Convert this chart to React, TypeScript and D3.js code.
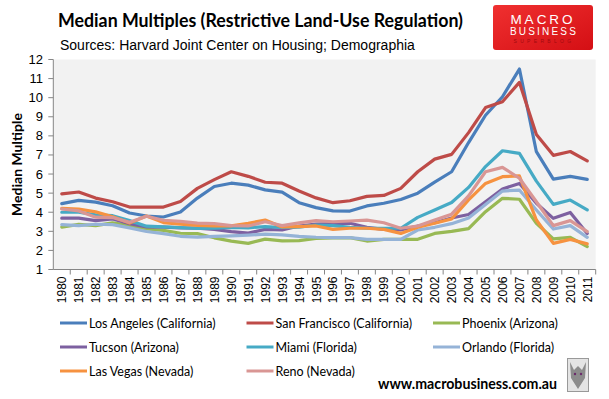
import React from 'react';
import * as d3 from 'd3';

const years = d3.range(1980, 2012).map(String);

const losAngeles = [4.45, 4.62, 4.53, 4.34, 3.96, 3.8, 3.75, 4.01, 4.74, 5.35, 5.52, 5.42, 5.17, 5.05, 4.5, 4.24, 4.07, 4.06, 4.33, 4.47, 4.67, 5.0, 5.58, 6.12, 7.65, 9.08, 10.05, 11.5, 7.17, 5.73, 5.88, 5.72];
const sanFrancisco = [4.96, 5.06, 4.74, 4.55, 4.27, 4.27, 4.27, 4.56, 5.25, 5.71, 6.12, 5.88, 5.57, 5.52, 5.11, 4.75, 4.5, 4.6, 4.83, 4.88, 5.25, 6.12, 6.78, 7.03, 8.17, 9.48, 9.79, 10.8, 8.07, 6.98, 7.18, 6.69];
const phoenix = [3.22, 3.36, 3.3, 3.44, 3.3, 3.12, 3.05, 2.9, 2.88, 2.66, 2.49, 2.37, 2.59, 2.5, 2.51, 2.63, 2.65, 2.67, 2.49, 2.58, 2.58, 2.58, 2.89, 3.0, 3.14, 4.03, 4.73, 4.68, 3.42, 2.6, 2.68, 2.2];
const tucson = [3.69, 3.69, 3.56, 3.65, 3.4, 3.23, 3.22, 3.18, 3.16, 3.1, 2.98, 2.91, 3.1, 3.07, 3.28, 3.38, 3.4, 3.42, 3.21, 3.1, 3.07, 3.28, 3.45, 3.7, 3.88, 4.55, 5.22, 5.51, 4.47, 3.68, 3.99, 2.89];
const miami = [4.0, 4.0, 3.86, 3.82, 3.56, 3.27, 3.23, 3.19, 3.15, 3.16, 3.2, 3.18, 3.25, 3.2, 3.22, 3.33, 3.3, 3.21, 3.16, 3.16, 3.16, 3.73, 4.12, 4.51, 5.3, 6.39, 7.22, 7.08, 5.63, 4.41, 4.64, 4.12];
const orlando = [3.35, 3.3, 3.37, 3.35, 3.18, 2.99, 2.88, 2.74, 2.7, 2.73, 2.76, 2.8, 2.85, 2.81, 2.74, 2.69, 2.67, 2.67, 2.58, 2.58, 2.58, 3.07, 3.21, 3.4, 3.7, 4.41, 5.11, 5.16, 4.12, 3.12, 3.3, 2.68];
const lasVegas = [4.2, 4.17, 4.02, 3.76, 3.43, 3.8, 3.46, 3.38, 3.31, 3.28, 3.29, 3.42, 3.59, 3.23, 3.25, 3.28, 3.1, 3.16, 3.16, 3.1, 2.89, 3.21, 3.42, 3.65, 4.65, 5.51, 5.86, 5.9, 3.59, 2.37, 2.58, 2.34];
const reno = [4.17, 4.07, 3.74, 3.72, 3.47, 3.79, 3.58, 3.52, 3.43, 3.4, 3.3, 3.28, 3.5, 3.3, 3.44, 3.56, 3.5, 3.54, 3.59, 3.45, 3.16, 3.28, 3.59, 3.9, 4.86, 6.12, 6.35, 5.78, 4.55, 3.3, 3.56, 2.98];

const seriesNames = [
  'Los Angeles (California)', 'San Francisco (California)', 'Phoenix (Arizona)',
  'Tucson (Arizona)', 'Miami (Florida)', 'Orlando (Florida)',
  'Las Vegas (Nevada)', 'Reno (Nevada)',
];
const seriesValues = [losAngeles, sanFrancisco, phoenix, tucson, miami, orlando, lasVegas, reno];
const seriesColors = ['#4A7EBB', '#BE4B48', '#98B954', '#7D60A0', '#46AAC5', '#95B3D7', '#F69240', '#D99694'];
const yTicks = d3.range(1, 13);

const W = 609, H = 399;
const plot = { left: 53.3, right: 595.7, top: 59.5, bottom: 269.5 };

const App = () => {
  const x = d3.scaleBand().domain(years).range([plot.left, plot.right]);
  const y = d3.scaleLinear().domain([1, 12]).range([plot.bottom, plot.top]);
  const cx = (yr: string) => (x(yr) as number) + x.bandwidth() / 2;

  const line = d3.line<number>()
    .x((d, i) => cx(years[i]))
    .y(d => y(d));

  const calibri = 'Lato, "Open Sans", sans-serif';
  const arial = '"Liberation Sans", Arial, sans-serif';

  return (
    <svg width={W} height={H} style={{ position: 'absolute', left: 0, top: 0, background: '#fff' }}>
      <defs>
        <linearGradient id="logoGrad" x1="0" y1="0" x2="1" y2="1">
          <stop offset="0" stopColor="#F03030" />
          <stop offset="1" stopColor="#D40F14" />
        </linearGradient>
      </defs>

      {/* title */}
      <text x={58} y={27} fontFamily={calibri} fontWeight="bold" fontSize={18} fill="#000"
        textLength={405} lengthAdjust="spacingAndGlyphs">
        Median Multiples (Restrictive Land-Use Regulation)
      </text>
      <text x={60} y={50} fontFamily={arial} fontSize={14} fill="#000">
        Sources: Harvard Joint Center on Housing; Demographia
      </text>

      {/* logo */}
      <rect x={493} y={5} width={100} height={45} rx={3} fill="url(#logoGrad)" />
      <text x={543} y={23.5} textAnchor="middle" fontFamily={arial} fontSize={13.5} letterSpacing={3} fill="#fff">MACRO</text>
      <text x={544} y={35} textAnchor="middle" fontFamily={arial} fontSize={10} letterSpacing={2.2} fill="#fff">BUSINESS</text>
      <text x={544} y={43} textAnchor="middle" fontFamily={arial} fontSize={5} letterSpacing={3.3} fill="#A00A0E">SUPERBLOG</text>

      {/* plot background */}
      <rect x={plot.left} y={plot.top} width={plot.right - plot.left} height={plot.bottom - plot.top} fill="#F2F2F2" />

      {/* y axis */}
      <line x1={plot.left} x2={plot.left} y1={plot.top} y2={plot.bottom} stroke="#868686" />
      {yTicks.map(t => (
        <g key={t}>
          <line x1={plot.left - 5} x2={plot.left} y1={y(t)} y2={y(t)} stroke="#868686" />
          <text x={43} y={y(t) + 4.5} textAnchor="end" fontFamily={arial} fontSize={13} fill="#000">{t}</text>
        </g>
      ))}
      <text transform={`translate(22,${(plot.top + plot.bottom) / 2}) rotate(-90)`} textAnchor="middle"
        fontFamily={calibri} fontWeight="bold" fontSize={14} fill="#000">Median Multiple</text>

      {/* x axis */}
      <line x1={plot.left} x2={plot.right} y1={plot.bottom} y2={plot.bottom} stroke="#868686" />
      {years.map(yr => (
        <line key={'t' + yr} x1={(x(yr) as number) + x.bandwidth()} x2={(x(yr) as number) + x.bandwidth()}
          y1={plot.bottom} y2={plot.bottom + 5} stroke="#868686" />
      ))}
      {years.map(yr => (
        <text key={yr} transform={`translate(${cx(yr) + 4.5},${plot.bottom + 7}) rotate(-90)`} textAnchor="end"
          fontFamily={arial} fontSize={12} fill="#000">{yr}</text>
      ))}

      {/* series */}
      {seriesValues.map((vals, i) => (
        <path key={seriesNames[i]} d={line(vals) || ''} fill="none" stroke={seriesColors[i]}
          strokeWidth={3.2} strokeLinejoin="round" strokeLinecap="round" />
      ))}

      {/* legend */}
      {seriesNames.map((name, i) => {
        const col = i % 3, row = Math.floor(i / 3);
        const lx = 60 + col * 186.5, ly = 323 + row * 24;
        return (
          <g key={'lg' + name}>
            <line x1={lx} x2={lx + 27} y1={ly} y2={ly} stroke={seriesColors[i]} strokeWidth={3} />
            <text x={lx + 29} y={ly + 5} fontFamily={calibri} fontSize={12.5} fill="#000">{name}</text>
          </g>
        );
      })}

      {/* watermark */}
      <text x={378} y={389} fontFamily={calibri} fontWeight="bold" fontSize={15} fill="#000"
        textLength={179} lengthAdjust="spacingAndGlyphs">www.macrobusiness.com.au</text>
      <rect x={567.5} y={358.5} width={21} height={33} fill="#E4E4E4" stroke="#999" />
      <path d="M570,362 L574,370 L578,366 L582,370 L586,362 L585,378 L578,389 L571,378 Z" fill="#8C8C8C" />
      <circle cx={575} cy={374} r={1.2} fill="#6B2A6B" />
      <circle cx={581} cy={374} r={1.2} fill="#6B2A6B" />
    </svg>
  );
};

export default App;
